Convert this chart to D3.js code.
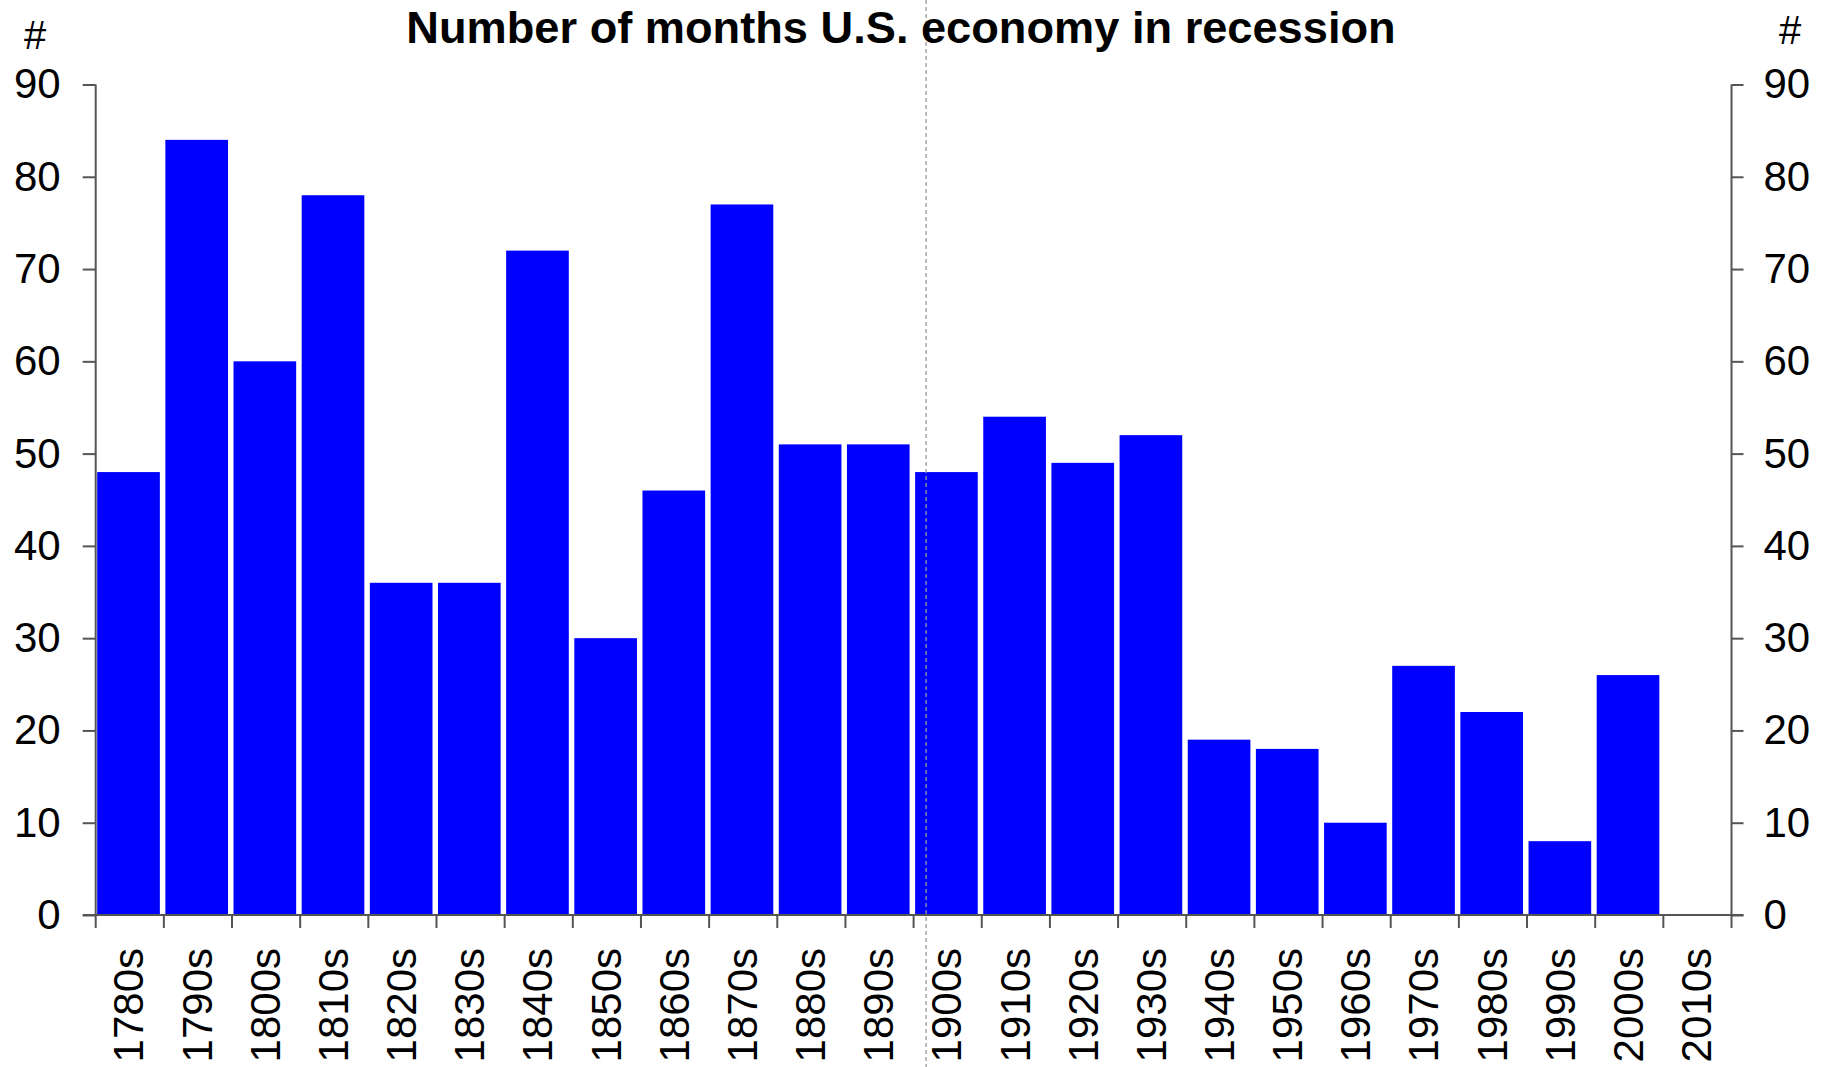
<!DOCTYPE html>
<html>
<head>
<meta charset="utf-8">
<script src="https://cdn.jsdelivr.net/npm/d3@7"></script>
<style>
  body { margin: 0; background: #fff; }
  text { font-family: "Liberation Sans", Arial, sans-serif; fill: #000; }
</style>
</head>
<body>
<div id="chart"></div>
<script>
// decades and months in recession
var decades = ["1780s","1790s","1800s","1810s","1820s","1830s","1840s","1850s","1860s","1870s","1880s","1890s",
               "1900s","1910s","1920s","1930s","1940s","1950s","1960s","1970s","1980s","1990s","2000s","2010s"];
var months = [48,84,60,78,36,36,72,30,46,77,51,51,48,54,49,52,19,18,10,27,22,8,26,0];
var yTicks = [0,10,20,30,40,50,60,70,80,90];

var width = 1829, height = 1067;
var mLeft = 95.7, mRight = 1731.5, mTop = 84.5, mBottom = 915;

var svg = d3.select("#chart").append("svg")
    .attr("width", width)
    .attr("height", height);

var x = d3.scaleBand()
    .domain(decades)
    .range([mLeft, mRight])
    .padding(0);

var y = d3.scaleLinear()
    .domain([0, 90])
    .range([mBottom, mTop]);

var bw = x.bandwidth();

// bars
svg.append("g")
  .selectAll("rect")
  .data(decades)
  .enter().append("rect")
    .attr("x", function(d) { return x(d) + 1.5; })
    .attr("width", bw - 5.5)
    .attr("y", function(d, i) { return y(months[i]); })
    .attr("height", function(d, i) { return mBottom - y(months[i]); })
    .attr("fill", "#0000ff");

// dashed divider before 1900s
svg.append("line")
    .attr("x1", x("1900s") + 12.5).attr("x2", x("1900s") + 12.5)
    .attr("y1", 0).attr("y2", height)
    .attr("stroke", "#999")
    .attr("stroke-width", 1.3)
    .attr("stroke-dasharray", "4,3");

var axisColor = "#555";

// left axis
var yl = svg.append("g")
    .attr("transform", "translate(" + mLeft + ",0)")
    .call(d3.axisLeft(y).tickValues(yTicks).tickSize(13).tickPadding(22));
// right axis
var yr = svg.append("g")
    .attr("transform", "translate(" + mRight + ",0)")
    .call(d3.axisRight(y).tickValues(yTicks).tickSize(12).tickPadding(20));

[yl, yr].forEach(function(g) {
  g.select(".domain").attr("stroke", axisColor).attr("stroke-width", 2)
    .attr("d", "M0," + mTop + "V" + mBottom);
  g.selectAll(".tick line").attr("stroke", axisColor).attr("stroke-width", 2);
  g.selectAll(".tick text").style("font-size", "42px").attr("fill", "#000")
    .style("font-family", "Liberation Sans, Arial, sans-serif");
});

// bottom axis: ticks at band edges
var xg = svg.append("g");
xg.append("line")
    .attr("x1", mLeft - 13).attr("x2", mRight + 12)
    .attr("y1", mBottom).attr("y2", mBottom)
    .attr("stroke", axisColor).attr("stroke-width", 2);
xg.selectAll(".xtick")
  .data(decades.concat(["end"]))
  .enter().append("line")
    .attr("x1", function(d, i) { return mLeft + i * bw; })
    .attr("x2", function(d, i) { return mLeft + i * bw; })
    .attr("y1", mBottom).attr("y2", mBottom + 13)
    .attr("stroke", axisColor).attr("stroke-width", 2);
xg.selectAll(".xlabel")
  .data(decades)
  .enter().append("text")
    .attr("transform", function(d) {
      return "translate(" + (x(d) + bw / 2 - 1) + "," + (mBottom + 33) + ") rotate(-90)";
    })
    .attr("text-anchor", "end")
    .attr("dy", "0.35em")
    .style("font-size", "42px")
    .text(function(d) { return d; });

// title and unit labels
svg.append("text")
    .attr("x", 901).attr("y", 43)
    .attr("text-anchor", "middle")
    .style("font-size", "45.2px")
    .style("font-weight", "bold")
    .text("Number of months U.S. economy in recession");

svg.append("text")
    .attr("x", 35).attr("y", 49)
    .attr("text-anchor", "middle")
    .style("font-size", "40px")
    .text("#");
svg.append("text")
    .attr("x", 1790).attr("y", 44)
    .attr("text-anchor", "middle")
    .style("font-size", "40px")
    .text("#");
</script>
</body>
</html>
